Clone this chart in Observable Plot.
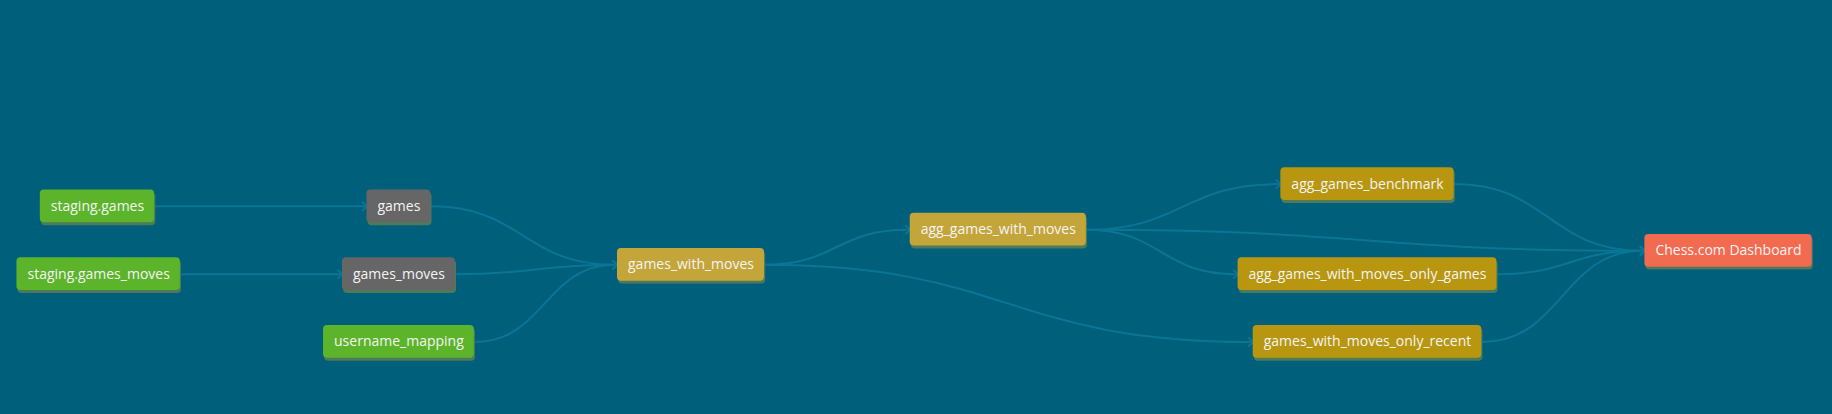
<!DOCTYPE html>
<html><head><meta charset="utf-8">
<script src="https://cdn.jsdelivr.net/npm/d3@7"></script>
<script src="https://cdn.jsdelivr.net/npm/@observablehq/plot@0.6"></script>
<style>body{margin:0;background:#005f7a;}</style>
</head><body><div id="chart"></div>
<script>
const nodeNames = ["staging.games","staging.games_moves","username_mapping","games","games_moves","games_with_moves","agg_games_with_moves","agg_games_benchmark","agg_games_with_moves_only_games","games_with_moves_only_recent","Chess.com Dashboard"];
const nodeX = [83,84,341,341,341,591,854,1170,1170,1170,1479];
const nodeY = [176,234,292,176,234,226,196,157,234,292,214];
const nodeKind = ["source","source","source","staging","staging","model","model2","model3","model3","model3","exposure"];
const edgeFrom = [0,1,3,4,2,5,5,6,6,6,7,8,9];
const edgeTo   = [3,4,5,5,5,6,9,7,8,10,10,10,10];
const kindColor = {source:"#5bb42a",staging:"#666666",model:"#c4a53a",model2:"#c4a53a",model3:"#b8960f",exposure:"#f26b50"};

const ctx = document.createElement("canvas").getContext("2d");
ctx.font = "14px 'Open Sans'";
const W = 1832, H = 414, sx = W/1568;
const nodes = nodeNames.map((n,i)=>{
  const hw = (ctx.measureText(n).width/sx)/2 + 9;
  return {name:n,x:nodeX[i],y:nodeY[i],x1:nodeX[i]-hw,x2:nodeX[i]+hw,y1:nodeY[i]-14,y2:nodeY[i]+14,color:kindColor[nodeKind[i]]};
});
const edges = edgeFrom.map((f,i)=>({x1:nodes[f].x2,y1:nodes[f].y,x2:nodes[edgeTo[i]].x1-2,y2:nodes[edgeTo[i]].y}));

const plot = Plot.plot({
  width:W,height:H,margin:0,
  style:{background:"#005f7a",fontFamily:"'Open Sans', sans-serif"},
  x:{domain:[0,1568],axis:null},
  y:{domain:[354,0],axis:null},
  marks:[
    Plot.link(edges,{x1:"x1",y1:"y1",x2:"x2",y2:"y2",curve:"bump-x",stroke:"#0a7596",strokeWidth:2,markerEnd:"arrow"}),
    Plot.rect(nodes,{x1:d=>d.x1+1,x2:d=>d.x2+1,y1:d=>d.y1+2.5,y2:d=>d.y2+2.5,fill:"#4d7a5a",rx:4}),
    Plot.rect(nodes,{x1:"x1",x2:"x2",y1:"y1",y2:"y2",fill:"color",rx:4}),
    Plot.text(nodes,{x:"x",y:"y",text:"name",fill:"#f4f4f4",fontSize:14})
  ]
});
document.getElementById("chart").append(plot);
</script></body></html>
